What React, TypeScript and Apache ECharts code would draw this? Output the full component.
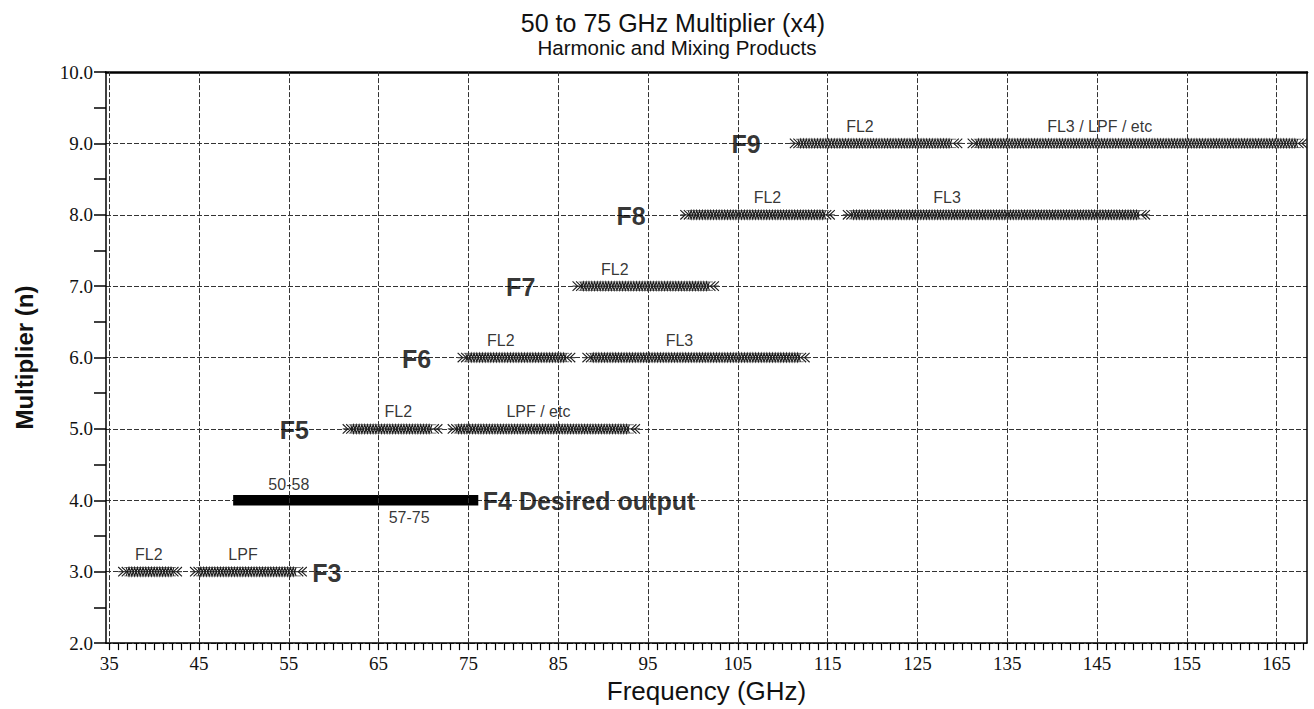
import React, { useEffect, useRef } from 'react';
import * as echarts from 'echarts';

// Hatched spans of the harmonic / mixing products (GHz) per multiplier n
const segRow = [3, 3, 5, 5, 6, 6, 7, 8, 8, 9, 9];
const segStart = [36.0, 44.0, 61.0, 72.7, 73.8, 87.7, 86.6, 98.6, 116.7, 110.8, 130.6];
const segEnd = [43.1, 57.0, 72.1, 94.1, 86.9, 113.0, 102.9, 115.8, 150.9, 130.0, 168.4];
const segLabel = ['FL2', 'LPF', 'FL2', 'LPF / etc', 'FL2', 'FL3', 'FL2', 'FL2', 'FL3', 'FL2', 'FL3 / LPF / etc'];
const segLabelFreq = [39.4, 49.9, 67.2, 82.8, 78.6, 98.5, 91.3, 108.3, 128.3, 118.6, 145.3];

// Desired output band (F4)
const desiredRow = 4;
const desiredStart = 48.8;
const desiredEnd = 76.1;
const rangeText = ['50-58', '57-75'];
const rangeFreq = [55.0, 68.4];

// Harmonic names
const harmText = ['F3', 'F4 Desired output', 'F5', 'F6', 'F7', 'F8', 'F9'];
const harmRow = [3, 4, 5, 6, 7, 8, 9];
const harmFreq = [57.6, 76.6, 54.0, 67.6, 79.2, 91.5, 104.3];

// Axes
const xMin = 34.64;
const xMax = 168.39;
const xLabelValues = [35, 45, 55, 65, 75, 85, 95, 105, 115, 125, 135, 145, 155, 165];
const xTickStart = 35;
const xTickEnd = 168;
const yMin = 2;
const yMax = 10;
const yStep = 1;

const SANS = '"Liberation Sans", Arial, Helvetica, sans-serif';
const SERIF = '"Liberation Serif", "Times New Roman", serif';

export default function App() {
  const ref = useRef<HTMLDivElement>(null);

  useEffect(() => {
    if (!ref.current) return;
    const chart = echarts.init(ref.current, null, { renderer: 'svg' });

    const xTicks: number[] = [];
    for (let v = xTickStart; v <= xTickEnd; v++) xTicks.push(v);

    const gridStyle = { color: '#333', width: 1, type: [5, 2] as any };

    const segData = segRow.map((r, i) => [segStart[i], segEnd[i], r]);

    const renderHatch = (params: any, api: any) => {
      const s = api.coord([api.value(0), api.value(2)]);
      const e = api.coord([api.value(1), api.value(2)]);
      const x1 = s[0];
      const x2 = e[0];
      const y = s[1];
      const h = 4.2;
      const step = 2.8;
      const z1: number[][] = [];
      const z2: number[][] = [];
      let k = 0;
      for (let x = x1 + 8; x <= x2 - 8; x += step, k++) {
        z1.push([x, y + (k % 2 ? h : -h)]);
        z2.push([x, y + (k % 2 ? -h : h)]);
      }
      const st = { stroke: '#1a1a1a', lineWidth: 1.1, fill: null };
      const thin = { stroke: '#555', lineWidth: 0.8, fill: null };
      const children: any[] = [
        { type: 'line', shape: { x1: x1, y1: y, x2: x2, y2: y }, style: { stroke: '#444', lineWidth: 1.2 } },
        { type: 'line', shape: { x1: x1 + 6, y1: y - h, x2: x2 - 6, y2: y - h }, style: thin },
        { type: 'line', shape: { x1: x1 + 6, y1: y + h, x2: x2 - 6, y2: y + h }, style: thin },
        { type: 'polyline', shape: { points: z1 }, style: st },
        { type: 'polyline', shape: { points: z2 }, style: st },
      ];
      [0, 3.5].forEach((o) => {
        children.push({
          type: 'polyline',
          shape: { points: [[x1 + o, y - h - 0.5], [x1 + o + 5, y], [x1 + o, y + h + 0.5]] },
          style: st,
        });
        children.push({
          type: 'polyline',
          shape: { points: [[x2 - o, y - h - 0.5], [x2 - o - 5, y], [x2 - o, y + h + 0.5]] },
          style: st,
        });
      });
      return { type: 'group', children };
    };

    const option: any = {
      animation: false,
      backgroundColor: '#ffffff',
      title: [
        {
          text: '50 to 75 GHz Multiplier (x4)',
          left: 668,
          textAlign: 'center',
          top: 5,
          textStyle: { fontFamily: SANS, fontSize: 25, fontWeight: 'normal', color: '#111' },
        },
        {
          text: 'Harmonic and Mixing Products',
          left: 672,
          textAlign: 'center',
          top: 32,
          textStyle: { fontFamily: SANS, fontSize: 20.5, fontWeight: 'normal', color: '#111' },
        },
      ],
      grid: { left: 106, right: 7, top: 72, bottom: 65, containLabel: false },
      xAxis: [
        {
          type: 'value',
          min: xMin,
          max: xMax,
          position: 'bottom',
          name: 'Frequency (GHz)',
          nameLocation: 'middle',
          nameGap: 31,
          nameTextStyle: { fontFamily: SANS, fontSize: 26, color: '#111' },
          axisLine: { show: true, onZero: false, lineStyle: { color: '#000', width: 1.5 } },
          axisTick: { show: true, customValues: xTicks, length: 7, lineStyle: { color: '#000', width: 1.2 } },
          axisLabel: {
            customValues: xLabelValues,
            margin: 11,
            fontFamily: SERIF,
            fontSize: 19,
            color: '#111',
            formatter: (v: number) => String(Math.round(v)),
          },
          splitLine: { show: false },
        },
        {
          type: 'value',
          min: xMin,
          max: xMax,
          position: 'top',
          axisLine: { show: true, onZero: false, lineStyle: { color: '#000', width: 2.5 } },
          axisTick: { show: false },
          axisLabel: { show: false },
          splitLine: { show: false },
        },
      ],
      yAxis: [
        {
          type: 'value',
          min: yMin,
          max: yMax,
          interval: yStep,
          name: 'Multiplier (n)',
          nameLocation: 'middle',
          nameGap: 70,
          nameTextStyle: { fontFamily: SANS, fontSize: 24, fontWeight: 'bold', color: '#111' },
          axisLine: { show: true, onZero: false, lineStyle: { color: '#000', width: 1.5 } },
          axisTick: { show: true, length: 12, lineStyle: { color: '#000', width: 1.5 } },
          minorTick: { show: true, splitNumber: 2, length: 12, lineStyle: { color: '#000', width: 1.5 } },
          axisLabel: {
            margin: 13,
            fontFamily: SERIF,
            fontSize: 19,
            color: '#111',
            formatter: (v: number) => v.toFixed(1),
          },
          splitLine: { show: true, lineStyle: gridStyle },
        },
        {
          type: 'value',
          min: yMin,
          max: yMax,
          position: 'right',
          axisLine: { show: true, onZero: false, lineStyle: { color: '#000', width: 1.5 } },
          axisTick: { show: false },
          axisLabel: { show: false },
          splitLine: { show: false },
        },
      ],
      series: [
        {
          type: 'line',
          name: 'grid',
          data: [],
          silent: true,
          z: 1,
          markLine: {
            silent: true,
            symbol: ['none', 'none'],
            label: { show: false },
            lineStyle: gridStyle,
            emphasis: { disabled: true },
            data: xLabelValues.map((v) => ({ xAxis: v })),
          },
        },
        {
          type: 'custom',
          name: 'products',
          renderItem: renderHatch,
          data: segData,
          encode: { x: [0, 1], y: 2 },
          clip: true,
          z: 3,
        },
        {
          type: 'line',
          name: 'desired',
          data: [[desiredStart, desiredRow], [desiredEnd, desiredRow]],
          symbol: 'none',
          lineStyle: { color: '#000', width: 10.5, cap: 'butt' },
          z: 4,
        },
        {
          type: 'scatter',
          name: 'product labels',
          symbolSize: 0,
          z: 5,
          data: segLabel.map((t, i) => ({ name: t, value: [segLabelFreq[i], segRow[i]] })),
          label: {
            show: true,
            position: 'inside',
            offset: [0, -17],
            formatter: (p: any) => p.name,
            fontFamily: SANS,
            fontSize: 16,
            color: '#000',
            textBorderWidth: 0,
          },
        },
        {
          type: 'scatter',
          name: 'range labels',
          symbolSize: 0,
          z: 5,
          data: rangeText.map((t, i) => ({
            name: t,
            value: [rangeFreq[i], desiredRow],
            label: { offset: [0, i === 0 ? -16 : 17] },
          })),
          label: {
            show: true,
            position: 'inside',
            formatter: (p: any) => p.name,
            fontFamily: SANS,
            fontSize: 16,
            color: '#000',
            textBorderWidth: 0,
          },
        },
        {
          type: 'scatter',
          name: 'harmonic labels',
          symbolSize: 0,
          z: 6,
          data: harmText.map((t, i) => ({ name: t, value: [harmFreq[i], harmRow[i]] })),
          label: {
            show: true,
            position: 'right',
            distance: 0,
            offset: [0, 1],
            formatter: (p: any) => p.name,
            fontFamily: SANS,
            fontSize: 25,
            fontWeight: 'bold',
            color: '#000',
            textBorderWidth: 0,
          },
        },
      ],
    };

    chart.setOption(option);
    return () => chart.dispose();
  }, []);

  return (
    <div
      ref={ref}
      style={{ position: 'fixed', left: 0, top: 0, width: 1314, height: 709, background: '#fff' }}
    />
  );
}
